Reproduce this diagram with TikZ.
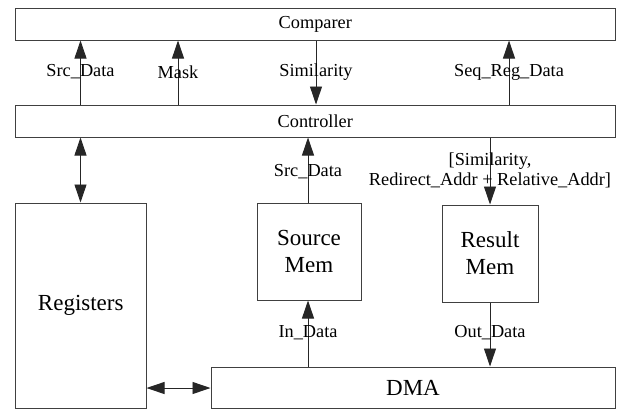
\documentclass[tikz,border=0pt]{standalone}
\usepackage{fontspec}
\setmainfont{Liberation Serif}
\usetikzlibrary{arrows.meta}
\tikzset{
  box/.style={draw=black!75, line width=1pt, inner sep=0pt, align=center,
    font=\fontsize{23}{27}\selectfont},
  bar/.style={box, font=\fontsize{18.3}{20}\selectfont},
  lbl/.style={inner sep=0pt, align=center, font=\fontsize{18.3}{20}\selectfont},
  arr/.style={line width=0.9pt, draw=black!85,
    -{Triangle[length=18pt,width=12pt]}},
  biarr/.style={line width=0.9pt, draw=black!85,
    {Triangle[length=18pt,width=12pt]}-{Triangle[length=18pt,width=12pt]}}
}
\begin{document}
\begin{tikzpicture}[x=1pt,y=-1pt]
\useasboundingbox (0,0) rectangle (620,410);

% blocks
\node[bar, minimum width=599.5pt, minimum height=32pt] (cmp) at (315.25,24) {Comparer};
\node[bar, minimum width=599.5pt, minimum height=32pt] (ctl) at (315.25,121) {Controller};
\node[box, minimum width=130.5pt, minimum height=205pt] (reg) at (80.75,305.5) {Registers};
\node[box, minimum width=104pt, minimum height=97pt] (src) at (309,251.5) {Source\\Mem};
\node[box, minimum width=96pt, minimum height=97pt] (res) at (490,253.5) {Result\\Mem};
\node[box, minimum width=404pt, minimum height=41pt] (dma) at (413,387.5) {DMA};

% signal columns
\coordinate (xs) at (80.5,0);
\coordinate (xm) at (178,0);
\coordinate (xsim) at (316,0);
\coordinate (xq) at (509,0);
\coordinate (xsm) at (308,0);
\coordinate (xrm) at (490,0);
\coordinate (ydr) at (0,388);

% Controller <-> Comparer
\draw[arr] (ctl.north -| xs) -- (cmp.south -| xs);
\draw[arr] (ctl.north -| xm) -- (cmp.south -| xm);
\draw[arr] (cmp.south -| xsim) -- (ctl.north -| xsim);
\draw[arr] (ctl.north -| xq) -- (cmp.south -| xq);
\node[lbl] (l1) at (80.5,72) {Src\_Data};
\node[lbl] (l2) at (178,72) {Mask};
\node[lbl] (l3) at (316,72) {Similarity};
\node[lbl] (l4) at (509,72) {Seq\_Reg\_Data};

% Controller <-> Registers
\draw[biarr] (ctl.south -| xs) -- (reg.north -| xs);

% memories
\draw[arr] (src.north -| xsm) -- (ctl.south -| xsm);
\node[lbl] (l5) at (308,172) {Src\_Data};
\draw[arr] (ctl.south -| xrm) -- (res.north -| xrm);
\node[lbl] (l6) at (490,170) {[Similarity,\\Redirect\_Addr + Relative\_Addr]};

% DMA
\draw[arr] (dma.north -| xsm) -- (src.south -| xsm);
\node[lbl] (l7) at (308,333) {In\_Data};
\draw[arr] (res.south -| xrm) -- (dma.north -| xrm);
\node[lbl] (l8) at (490,333) {Out\_Data};
\draw[biarr] (reg.east |- ydr) -- (dma.west |- ydr);
\end{tikzpicture}
\end{document}
